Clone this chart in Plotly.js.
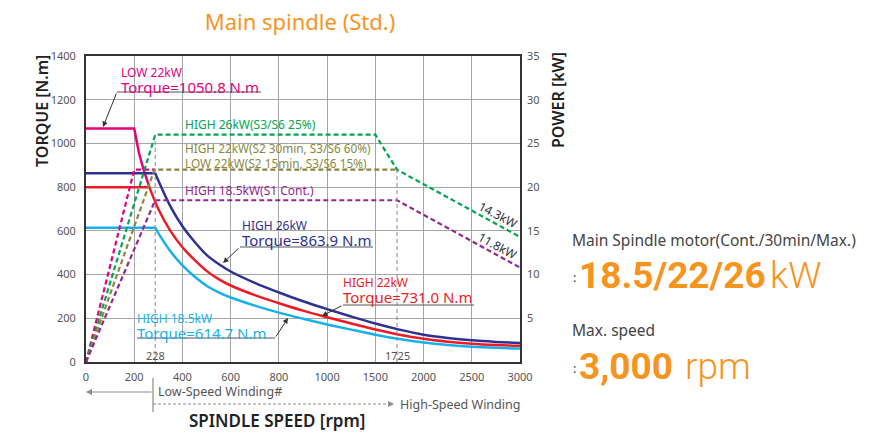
<!DOCTYPE html>
<html>
<head>
<meta charset="utf-8">
<script src="https://cdn.plot.ly/plotly-3.0.1.min.js"></script>
<style>
html,body{margin:0;padding:0;background:#fff;}
#chart{width:887px;height:439px;}
</style>
</head>
<body>
<div id="chart"></div>
<script>
// ---- data (rpm / N.m / kW) ----
const xTickRpm = [0, 200, 400, 600, 800, 1000, 1500, 2000, 2500, 3000];
const xTickLabels = ['0','200','400','600','800','1000','1500','2000','2500','3000'];

// torque curves: flat part + falling part
const low22Rpm    = [0, 200, 220, 240, 263];
const low22Torque = [1068, 1068, 955, 875, 800];

const high26FlatRpm = [0, 287];
const high26FlatTorque = [864, 864];
const high26Rpm    = [287, 300, 350, 400, 450, 500, 550, 600, 700, 800, 900, 1000, 1250, 1500, 1750, 2000, 2250, 2500, 2750, 3000];
const high26Torque = [864, 830, 712, 621, 550, 490, 448, 414, 362, 318, 278, 242, 208, 176, 148, 125, 110, 99, 92, 87];

const high22FlatRpm = [0, 263];
const high22FlatTorque = [800, 800];
const high22Rpm    = [263, 300, 350, 400, 450, 500, 550, 600, 700, 800, 900, 1000, 1250, 1500, 1750, 2000, 2250, 2500, 2750, 3000];
const high22Torque = [800, 700, 600, 525, 467, 417, 379, 350, 306, 269, 235, 205, 176, 149, 125, 106, 93, 84, 78, 74];

const high185FlatRpm = [0, 287];
const high185FlatTorque = [614.7, 614.7];
const high185Rpm    = [287, 300, 350, 400, 450, 500, 550, 600, 700, 800, 900, 1000, 1250, 1500, 1750, 2000, 2250, 2500, 2750, 3000];
const high185Torque = [614.7, 590, 507, 442, 391, 349, 319, 295, 258, 226, 198, 172, 148, 125, 105, 89, 78, 70, 65, 62];

// power curves
const pLow22Rpm = [0, 200, 287];
const pLow22Kw  = [0, 22, 22];
const pHigh26Rpm = [0, 287, 1500, 1725, 3000];
const pHigh26Kw  = [0, 26, 26, 22, 14.3];
const pHigh22Rpm = [0, 284, 1725];
const pHigh22Kw  = [0, 22, 22];
const pHigh185Rpm = [0, 287, 1725, 3000];
const pHigh185Kw  = [0, 18.5, 18.5, 10.8];

const baseSpeedPos = 287;   // drawn position of the "228" marker
const baseSpeedLabel = '228';
const highBreak = 1725;

// ---- piecewise rpm scale: 200 rpm steps up to 1000, 500 rpm steps after ----
function xu(r){ return r <= 1000 ? r/200 : 5 + (r-1000)/500; }
const xs = a => a.map(xu);

// pixel -> paper helpers (plot area 86..520 x 56..362)
const PL=86, PR=520, PT=56, PB=362;
const px = v => (v-PL)/(PR-PL);
const py = v => (PB-v)/(PB-PT);

const C = {
  mag:'#E6007E', navy:'#2E3192', red:'#ED1C24', sky:'#16B1EC',
  green:'#00A651', olive:'#8A883C', purple:'#93278F', orange:'#F7941D'
};
const FONT = 'Noto Sans, Open Sans, sans-serif';

const dash = '5px,3px';
const solid = (x, y, c, spl) => ({x:xs(x), y:y, mode:'lines',
  line:spl ? {color:c, width:2.5, shape:'spline', smoothing:1} : {color:c, width:2.5}});
const traces = [
  {x:xs(pLow22Rpm), y:pLow22Kw, yaxis:'y2', mode:'lines', line:{color:C.mag, width:2.2, dash:dash}},
  {x:xs(pHigh26Rpm), y:pHigh26Kw, yaxis:'y2', mode:'lines', line:{color:C.green, width:2.2, dash:dash}},
  {x:xs(pHigh22Rpm), y:pHigh22Kw, yaxis:'y2', mode:'lines', line:{color:C.olive, width:2.2, dash:dash}},
  {x:xs(pHigh185Rpm), y:pHigh185Kw, yaxis:'y2', mode:'lines', line:{color:C.purple, width:2.2, dash:dash}},
  solid(low22Rpm, low22Torque, C.mag, false),
  solid(high185FlatRpm, high185FlatTorque, C.sky, false),
  solid(high185Rpm, high185Torque, C.sky, true),
  solid(high26FlatRpm, high26FlatTorque, C.navy, false),
  solid(high26Rpm, high26Torque, C.navy, true),
  solid(high22FlatRpm, high22FlatTorque, C.red, false),
  solid(high22Rpm, high22Torque, C.red, true)
].map(t => Object.assign({hoverinfo:'skip', showlegend:false}, t));

function txt(t, x, y, color, size, opts){
  return Object.assign({text:t, xref:'paper', yref:'paper', x:px(x), y:py(y),
    xanchor:'left', yanchor:'middle', showarrow:false, borderpad:0,
    font:{family:FONT, size:size, color:color}}, opts||{});
}
// two-line label: small caption over a larger "Torque=..." line, as one text block
function pair(cap, val, x, yTop, color){
  return {text:cap + '<br><span style="font-size:15px">' + val + '</span>',
    xref:'paper', yref:'paper', x:px(x), y:py(yTop), xanchor:'left', yanchor:'top',
    align:'left', showarrow:false, borderpad:0, font:{family:FONT, size:12, color:color}};
}
function arrow(tipX, tipY, fromX, fromY){
  return {text:'', xref:'paper', yref:'paper', x:px(tipX), y:py(tipY),
    ax:fromX-tipX, ay:fromY-tipY, showarrow:true, arrowhead:2, arrowsize:1.1,
    arrowwidth:1, arrowcolor:'#333', standoff:0};
}
function seg(x0,y0,x1,y1,color,w,d){
  return {type:'line', xref:'paper', yref:'paper', x0:px(x0), y0:py(y0), x1:px(x1), y1:py(y1),
    line:{color:color, width:w, dash:d||'solid'}};
}
const bold = (size, color) => ({family:FONT, size:size, color:color, weight:600});
const big = (w) => ({family:'Roboto, sans-serif', size:37, color:C.orange, weight:w});

const annotations = [
  pair('LOW 22kW', 'Torque=1050.8 N.m', 120, 63, C.mag),
  arrow(103, 127, 117, 92),
  txt('HIGH 26kW(S3/S6 25%)', 184, 125, C.green, 12),
  txt('HIGH 22kW(S2 30min, S3/S6 60%)<br>LOW 22kW(S2 15min, S3/S6 15%)', 184, 155, C.olive, 11.8, {align:'left'}),
  txt('HIGH 18.5kW(S1 Cont.)', 184, 190, C.purple, 12),
  pair('HIGH 26kW', 'Torque=863.9 N.m', 241, 216, C.navy),
  arrow(223, 263, 240, 247),
  pair('HIGH 22kW', 'Torque=731.0 N.m', 342, 273, C.red),
  arrow(322, 316, 343, 305),
  pair('HIGH 18.5kW', 'Torque=614.7 N.m', 136, 309, C.sky),
  arrow(288, 318, 275, 338),
  txt('14.3kW', 497, 215, '#333', 12, {xanchor:'center', textangle:28}),
  txt('11.8kW', 497, 245, '#333', 12, {xanchor:'center', textangle:28}),
  {text:baseSpeedLabel, xref:'x', yref:'paper', x:xu(baseSpeedPos), y:py(355), xanchor:'center', yanchor:'middle',
    showarrow:false, font:{family:FONT, size:11, color:'#555'}},
  {text:String(highBreak), xref:'x', yref:'paper', x:xu(highBreak), y:py(355), xanchor:'center', yanchor:'middle',
    showarrow:false, font:{family:FONT, size:11, color:'#555'}},
  // winding indicators
  {text:'', xref:'paper', yref:'paper', x:px(86), y:py(392), ax:67, ay:0, showarrow:true,
    arrowhead:2, arrowsize:1, arrowwidth:1.2, arrowcolor:'#8a8a8a', standoff:0},
  txt('Low-Speed Winding#', 157, 391, '#555', 12.5),
  {text:'', xref:'paper', yref:'paper', x:px(394), y:py(404), ax:-6, ay:0, showarrow:true,
    arrowhead:2, arrowsize:1, arrowwidth:1.2, arrowcolor:'#8a8a8a', standoff:0},
  txt('High-Speed Winding', 399, 404, '#555', 12.5),
  txt('SPINDLE SPEED [rpm]', 277, 420, '#222', 17, {xanchor:'center', font:bold(17, '#222')}),
  txt('TORQUE [N.m]', 42, 111, '#222', 16, {xanchor:'center', textangle:-90, font:bold(16, '#222')}),
  txt('POWER [kW]', 558, 100, '#222', 16, {xanchor:'center', textangle:-90, font:bold(16, '#222')}),
  // right-hand info block
  txt('Main Spindle motor(Cont./30min/Max.)', 571, 240, '#444', 15.5),
  txt(':', 572, 277, '#444', 13),
  txt('<b>18.5/22/26</b>', 578, 275, C.orange, 37, {font:big(700)}),
  txt('kW', 769, 275, C.orange, 37, {font:big(300)}),
  txt('Max. speed', 571, 330, '#444', 15.5),
  txt(':', 572, 368, '#444', 13),
  txt('<b>3,000</b>', 578, 366, C.orange, 37, {font:big(700)}),
  txt('rpm', 684, 366, C.orange, 37, {font:big(300)})
];

const shapes = [
  // underlines
  seg(117, 92, 261, 92, '#555', 1),
  seg(240, 247, 373, 247, '#555', 1),
  seg(343, 305, 474, 305, '#555', 1),
  seg(137, 338, 275, 338, '#555', 1),
  // vertical markers (rpm in data coords)
  {type:'line', xref:'x', yref:'y2', x0:xu(baseSpeedPos), x1:xu(baseSpeedPos), y0:0, y1:26,
    line:{color:'#888', width:1, dash:'4px,3px'}},
  {type:'line', xref:'x', yref:'y2', x0:xu(highBreak), x1:xu(highBreak), y0:0, y1:22,
    line:{color:'#888', width:1, dash:'4px,3px'}},
  // winding marks below axis
  seg(153, 378, 153, 412, '#8a8a8a', 1.2),
  seg(153, 404, 390, 404, '#8a8a8a', 1, '3px,2px')
];

const layout = {
  width:887, height:439,
  margin:{l:86, r:367, t:56, b:77, pad:0},
  paper_bgcolor:'#fff', plot_bgcolor:'#fff',
  showlegend:false,
  title:{text:'Main spindle (Std.)', xref:'container', yref:'container', x:300/887, y:1-22/439,
    xanchor:'center', yanchor:'middle', font:{family:FONT, size:22, color:C.orange}},
  xaxis:{range:[0,9], tickmode:'array', tickvals:xTickRpm.map(xu), ticktext:xTickLabels,
    showgrid:true, gridcolor:'#a6a6a6', gridwidth:1, zeroline:false,
    showline:true, linecolor:'#333', linewidth:2, mirror:true,
    ticks:'', ticklabelstandoff:4, tickfont:{family:FONT, size:11, color:'#555'}, fixedrange:true},
  yaxis:{range:[0,1400], dtick:200, tick0:0,
    showgrid:true, gridcolor:'#a6a6a6', gridwidth:1, zeroline:false,
    showline:true, linecolor:'#333', linewidth:2, mirror:true,
    ticks:'', ticklabelstandoff:6, tickfont:{family:FONT, size:11, color:'#555'}, fixedrange:true},
  yaxis2:{range:[0,35], overlaying:'y', side:'right', tickmode:'array', tickvals:[5,10,15,20,25,30,35],
    showgrid:false, zeroline:false, showline:false, ticks:'', ticklabelstandoff:6,
    tickfont:{family:FONT, size:11, color:'#555'}, fixedrange:true},
  annotations:annotations,
  shapes:shapes
};

Plotly.newPlot('chart', traces, layout, {staticPlot:true, displayModeBar:false});
</script>
</body>
</html>
